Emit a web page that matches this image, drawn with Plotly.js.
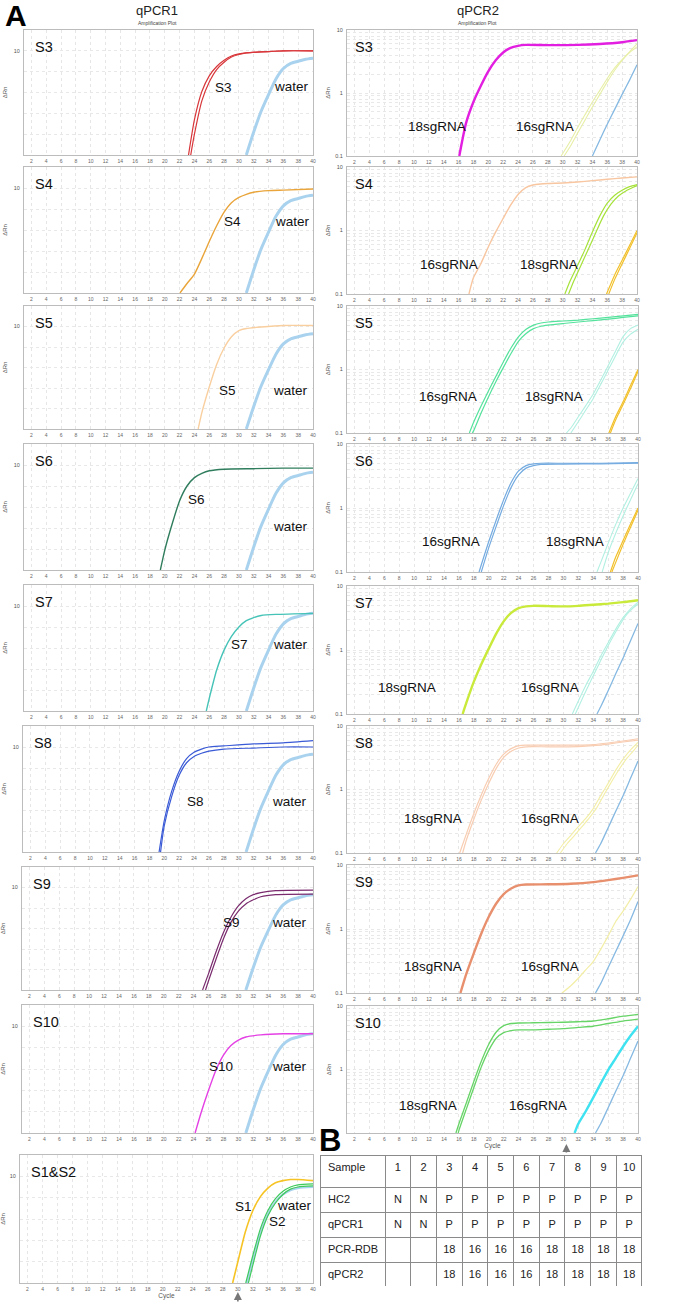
<!DOCTYPE html>
<html><head><meta charset="utf-8">
<script src="https://cdn.plot.ly/plotly-3.0.1.min.js"></script>
<style>html,body{margin:0;padding:0;background:#fff}</style>
</head><body><div id="chart" style="width:685px;height:1306px"></div>
<script>
// ================= DATA =================
const cycleTicks = [2,4,6,8,10,12,14,16,18,20,22,24,26,28,30,32,34,36,38,40];
const linTicks = [2,4,6,8,10];
const linTickText = ['','','','','10'];
const logTicks = [0.1,0.2,0.3,0.4,0.5,0.6,0.7,0.8,0.9,1,2,3,4,5,6,7,8,9,10];
const logTickText = ['0.1','','','','','','','','','1','','','','','','','','','10'];
const logTickTextNoMin = ['','','','','','','','','','1','','','','','','','','','10'];

// qPCR1 (linear dRn) — water control
const cyc_Lw = [31,32,33,34,35,36,37,38,39,40];
const rn_Lw  = [0,2.2,4.2,5.8,7.3,8.3,8.8,9.0,9.2,9.3];
// S3
const cyc_L3a = [23.2,24,25,26,27,28,29,30,31,33,36,40];
const rn_L3a  = [0,3.4,6.1,7.6,8.5,9.1,9.5,9.7,9.8,9.9,10.0,10.0];
const cyc_L3b = [23.5,24,25,26,27,28,29,30,31,33,36,40];
const rn_L3b  = [0,2.0,5.2,7.0,8.2,8.9,9.4,9.65,9.8,9.9,10.0,10.0];
// S4
const cyc_L4 = [22.05,23,24,25,26,27,28,29,30,31,32,34,36,40];
const rn_L4  = [0,0.9,1.8,3.3,4.9,6.4,7.7,8.6,9.1,9.4,9.6,9.75,9.8,9.9];
// S5
const cyc_L5 = [24.5,25,26,27,28,29,30,31,33,36,40];
const rn_L5  = [0,1.6,4.1,6.3,7.9,9.0,9.6,9.8,9.95,10.1,10.1];
// S6
const cyc_L6 = [19.4,20,21,22,23,24,25,26,28,32,36,40];
const rn_L6  = [0,1.9,4.4,6.6,8.0,8.8,9.2,9.45,9.6,9.65,9.7,9.7];
// S7
const cyc_L7 = [25.6,26,27,28,29,30,31,32,33,35,40];
const rn_L7  = [0,1.2,3.9,5.8,7.1,8.0,8.6,8.9,9.1,9.2,9.3];
// S8
const cyc_L8a = [19.3,20,21,22,23,24,25,26,28,32,36,40];
const rn_L8a  = [0,3.0,5.8,7.7,8.9,9.5,9.8,10.0,10.1,10.3,10.4,10.6];
const cyc_L8b = [19.5,20,21,22,23,24,25,26,28,32,36,40];
const rn_L8b  = [0,2.5,5.3,7.3,8.5,9.1,9.4,9.6,9.8,9.9,10.0,10.0];
// S9
const cyc_L9a = [25.2,26,27,28,29,30,31,32,33,35,40];
const rn_L9a  = [0,1.6,3.7,5.6,7.1,8.2,8.9,9.3,9.5,9.7,9.75];
const cyc_L9b = [25.6,26,27,28,29,30,31,32,33,35,40];
const rn_L9b  = [0,0.9,3.0,5.0,6.6,7.7,8.4,8.8,9.1,9.3,9.35];
// S10
const cyc_L10 = [24.2,25,26,27,28,29,30,31,33,36,40];
const rn_L10  = [0,1.9,4.0,5.9,7.3,8.2,8.7,9.0,9.2,9.3,9.3];
// S1 & S2
const cyc_L1 = [29.3,30,31,32,33,34,35,36,37,38,40];
const rn_L1  = [0,2.0,4.8,6.8,8.1,8.9,9.4,9.6,9.7,9.7,9.6];
const cyc_L2a = [31.05,32,33,34,35,36,37,38,40];
const rn_L2a  = [0,2.6,5.1,6.8,7.9,8.6,9.0,9.2,9.3];
const cyc_L2b = [31.4,32,33,34,35,36,37,38,40];
const rn_L2b  = [0,1.7,4.4,6.3,7.5,8.3,8.8,9.0,9.1];
const cyc_L12w = [31.2,32,33,34,35,36,37,38,40];
const rn_L12w  = [0,2.2,4.7,6.5,7.6,8.3,8.7,8.9,9.0];

// qPCR2 (log dRn)
// S3
const cyc_R3_18 = [16.1,17,18,19,20,21,22,23,24,25,28,32,35,38,40];
const rn_R3_18  = [0.1,0.33,0.72,1.3,2.2,3.3,4.4,5.2,5.6,5.8,5.75,5.8,6.0,6.4,6.9];
const cyc_R3_16a = [29.8,31,32,33,34,35,36,37,38,39,40];
const rn_R3_16a  = [0.1,0.17,0.28,0.45,0.72,1.1,1.7,2.5,3.4,4.4,5.4];
const cyc_R3_16b = [30.2,31,32,33,34,35,36,37,38,39,40];
const rn_R3_16b  = [0.1,0.14,0.23,0.37,0.6,0.95,1.5,2.3,3.3,4.5,6.0];
const cyc_R3_w = [34,35,36,37,38,39,40];
const rn_R3_w  = [0.1,0.18,0.32,0.55,0.95,1.6,2.8];
// S4
const cyc_R4_16 = [17.4,18,19,20,21,22,23,24,25,26,27,28,30,32,34,36,38,40];
const rn_R4_16  = [0.1,0.18,0.3,0.55,0.95,1.55,2.5,3.7,4.7,5.2,5.4,5.5,5.6,5.8,6.1,6.4,6.7,7.0];
const cyc_R4_18a = [30.3,31,32,33,34,35,36,37,38,39,40];
const rn_R4_18a  = [0.1,0.16,0.28,0.5,0.95,1.7,2.7,3.6,4.3,4.9,5.3];
const cyc_R4_18b = [30.8,31.5,32.5,33.5,34.5,35.5,36.5,37.5,38.5,39.5,40];
const rn_R4_18b  = [0.1,0.16,0.29,0.52,0.95,1.7,2.6,3.5,4.2,4.8,5.1];
const cyc_R4_wa = [35.9,37,38,39,40];
const rn_R4_wa  = [0.1,0.2,0.34,0.58,1.0];
const cyc_R4_wb = [36.2,37,38,39,40];
const rn_R4_wb  = [0.1,0.17,0.3,0.52,0.92];
// S5
const cyc_R5_16a = [17.4,18,19,20,21,22,23,24,25,26,27,28,30,32,34,36,38,40];
const rn_R5_16a  = [0.1,0.15,0.27,0.47,0.8,1.35,2.2,3.3,4.3,5.0,5.4,5.6,5.8,6.0,6.3,6.6,7.0,7.4];
const cyc_R5_16b = [17.8,18,19,20,21,22,23,24,25,26,27,28,30,32,34,36,38,40];
const rn_R5_16b  = [0.1,0.11,0.21,0.38,0.66,1.1,1.8,2.8,3.7,4.4,4.8,5.0,5.3,5.6,5.9,6.2,6.6,7.0];
const cyc_R5_18a = [30.4,31,32,33,34,35,36,37,38,39,40];
const rn_R5_18a  = [0.1,0.12,0.18,0.27,0.41,0.68,1.15,1.95,3.3,4.4,5.0];
const cyc_R5_18b = [31,32,33,34,35,36,37,38,39,40];
const rn_R5_18b  = [0.1,0.15,0.23,0.35,0.58,0.98,1.65,2.7,3.6,4.3];
const cyc_R5_wa = [36.1,37,38,39,40];
const rn_R5_wa  = [0.1,0.18,0.31,0.56,1.0];
const cyc_R5_wb = [36.3,37,38,39,40];
const rn_R5_wb  = [0.1,0.16,0.28,0.5,0.93];
// S6
const cyc_R6_16a = [18.7,19,20,21,22,23,24,25,26,27,30,35,40];
const rn_R6_16a  = [0.1,0.13,0.3,0.65,1.35,2.5,3.8,4.6,4.9,5.0,5.0,5.0,5.1];
const cyc_R6_16b = [19.0,20,21,22,23,24,25,26,27,30,35,40];
const rn_R6_16b  = [0.1,0.24,0.52,1.1,2.1,3.3,4.2,4.6,4.8,4.85,4.9,5.0];
const cyc_R6_18a = [34.5,35,36,37,38,39,40];
const rn_R6_18a  = [0.1,0.14,0.28,0.55,1.0,1.7,2.9];
const cyc_R6_18b = [35.2,36,37,38,39,40];
const rn_R6_18b  = [0.1,0.2,0.4,0.75,1.35,2.4];
const cyc_R6_wa = [36.3,37,38,39,40];
const rn_R6_wa  = [0.1,0.17,0.31,0.56,1.0];
const cyc_R6_wb = [36.5,37,38,39,40];
const rn_R6_wb  = [0.1,0.14,0.27,0.5,0.92];
// S7
const cyc_R7_18 = [16.5,17,18,19,20,21,22,23,24,25,26,28,30,32,34,36,38,40];
const rn_R7_18  = [0.1,0.15,0.32,0.6,1.05,1.8,2.8,3.8,4.5,4.8,4.9,4.85,4.8,4.9,5.1,5.3,5.6,6.0];
const cyc_R7_16a = [31.2,32,33,34,35,36,37,38,39,40];
const rn_R7_16a  = [0.1,0.16,0.28,0.46,0.8,1.3,2.1,3.2,4.4,5.6];
const cyc_R7_16b = [31.6,32.5,33.5,34.5,35.5,36.5,37.5,38.5,39.5,40];
const rn_R7_16b  = [0.1,0.17,0.3,0.52,0.9,1.5,2.4,3.6,4.7,5.3];
const cyc_R7_w = [34.5,35,36,37,38,39,40];
const rn_R7_w  = [0.1,0.13,0.23,0.42,0.75,1.4,2.6];
// S8
const cyc_R8_18a = [16.1,17,18,19,20,21,22,23,24,25,28,32,34,36,38,40];
const rn_R8_18a  = [0.1,0.2,0.42,0.82,1.5,2.5,3.6,4.4,4.9,5.0,5.0,5.0,5.1,5.4,5.8,6.3];
const cyc_R8_18b = [16.5,17,18,19,20,21,22,23,24,25,28,32,34,36,38,40];
const rn_R8_18b  = [0.1,0.16,0.34,0.68,1.25,2.15,3.2,4.0,4.5,4.7,4.7,4.75,4.9,5.2,5.6,6.0];
const cyc_R8_16a = [29.1,30,31,32,33,34,35,36,37,38,39,40];
const rn_R8_16a  = [0.1,0.14,0.19,0.26,0.35,0.5,0.8,1.25,2.0,3.0,4.2,5.5];
const cyc_R8_16b = [29.6,30.5,31.5,32.5,33.5,34.5,35.5,36.5,37.5,38.5,39.5,40];
const rn_R8_16b  = [0.1,0.14,0.19,0.26,0.36,0.52,0.85,1.35,2.1,3.1,4.2,5.0];
const cyc_R8_w = [34.3,35,36,37,38,39,40];
const rn_R8_w  = [0.1,0.14,0.25,0.45,0.8,1.5,2.8];
// S9
const cyc_R9_18 = [16.2,17,18,19,20,21,22,23,24,25,28,31,34,36,38,40];
const rn_R9_18  = [0.1,0.2,0.42,0.85,1.55,2.5,3.5,4.3,4.8,4.95,5.0,5.1,5.4,5.8,6.3,6.9];
const cyc_R9_16 = [29.8,31,32,33,34,35,36,37,38,39,40];
const rn_R9_16  = [0.1,0.13,0.17,0.23,0.31,0.48,0.78,1.3,1.9,2.9,4.6];
const cyc_R9_w = [34.3,35,36,37,38,39,40];
const rn_R9_w  = [0.1,0.14,0.25,0.44,0.78,1.4,2.7];
// S10
const cyc_R10_18a = [15.6,16,17,18,19,20,21,22,23,24,26,28,30,32,34,36,38,40];
const rn_R10_18a  = [0.1,0.14,0.3,0.65,1.35,2.5,3.9,4.9,5.3,5.4,5.45,5.5,5.55,5.65,5.8,6.3,6.9,7.4];
const cyc_R10_18b = [15.9,16,17,18,19,20,21,22,23,24,26,28,30,32,34,36,38,40];
const rn_R10_18b  = [0.1,0.11,0.24,0.52,1.1,2.0,3.1,3.8,4.1,4.2,4.2,4.3,4.4,4.6,4.8,5.3,5.8,6.2];
const cyc_R10_16 = [31.5,32,33,34,35,36,37,38,39,40];
const rn_R10_16  = [0.1,0.14,0.22,0.36,0.6,0.98,1.5,2.3,3.4,4.8];
const cyc_R10_w = [34.3,35,36,37,38,39,40];
const rn_R10_w  = [0.1,0.14,0.25,0.45,0.8,1.5,2.8];

// Table B
const tblSample = ['Sample','1','2','3','4','5','6','7','8','9','10'];
const tblHC2    = ['HC2','N','N','P','P','P','P','P','P','P','P'];
const tblQPCR1  = ['qPCR1','N','N','P','P','P','P','P','P','P','P'];
const tblRDB    = ['PCR-RDB','','','18','16','16','16','18','18','18','18'];
const tblQPCR2  = ['qPCR2','','','18','16','16','16','18','18','18','18'];

// ================= LAYOUT CONFIG =================
const W = 685, H = 1306;
const FONT = 'Liberation Sans, Arial, sans-serif';
const panels = [
  {name:'S3', log:false, l:24, r:313, t:30,  b:155},
  {name:'S4', log:false, l:24, r:313, t:167, b:293},
  {name:'S5', log:false, l:24, r:313, t:306, b:429},
  {name:'S6', log:false, l:24, r:313, t:444, b:570},
  {name:'S7', log:false, l:24, r:313, t:585, b:711},
  {name:'S8', log:false, l:23, r:313, t:726, b:852},
  {name:'S9', log:false, l:22, r:313, t:867, b:990},
  {name:'S10', log:false, l:22, r:313, t:1005, b:1133},
  {name:'S1&S2', log:false, l:20, r:313, t:1155, b:1283, cycle:true},
  {name:'S3', log:true, l:347, r:637, t:30,  b:156},
  {name:'S4', log:true, l:347, r:637, t:167, b:294},
  {name:'S5', log:true, l:347, r:638, t:306, b:433},
  {name:'S6', log:true, l:347, r:638, t:444, b:572},
  {name:'S7', log:true, l:347, r:638, t:586, b:714},
  {name:'S8', log:true, l:347, r:638, t:726, b:853},
  {name:'S9', log:true, l:347, r:638, t:865, b:993},
  {name:'S10', log:true, l:347, r:638, t:1006, b:1133, cycle:true, hideMin:true}
];

const C = {
  lwater:'#A9D2EE', red:'#D8363A', orange:'#E9A43A', peach:'#F9CF9F', dgreen:'#2F7D5D',
  teal:'#45C3B7', blue:'#3A5AD6', purple:'#7A2B6E', magenta:'#E440E4', yellow:'#F6C324', green:'#3FCB5C',
  rmag:'#E21EE0', pale16:'#E8EFA6', rwater:'#86B9E2', rpeach:'#F8C6A0', lime:'#A6E23A', gold:'#F2C02B',
  mint:'#54E29C', pcyan:'#B2F0E2', rblue:'#74ABE0', ylime:'#C9EA3A', lpeach:'#F8CDB2', pyellow:'#F3EEA6',
  coral:'#E8906E', rgreen:'#66D466', cyan:'#3FE2F0'
};

const curves = [
  // panel index (1-based), x, y, color, width
  [1, cyc_Lw, rn_Lw, C.lwater, 3], [1, cyc_L3a, rn_L3a, C.red, 1.2], [1, cyc_L3b, rn_L3b, C.red, 1.2],
  [2, cyc_Lw, rn_Lw, C.lwater, 3], [2, cyc_L4, rn_L4, C.orange, 1.4],
  [3, cyc_Lw, rn_Lw, C.lwater, 3], [3, cyc_L5, rn_L5, C.peach, 1.4],
  [4, cyc_Lw, rn_Lw, C.lwater, 3], [4, cyc_L6, rn_L6, C.dgreen, 1.4],
  [5, cyc_Lw, rn_Lw, C.lwater, 3], [5, cyc_L7, rn_L7, C.teal, 1.4],
  [6, cyc_Lw, rn_Lw, C.lwater, 3], [6, cyc_L8a, rn_L8a, C.blue, 1.2], [6, cyc_L8b, rn_L8b, C.blue, 1.2],
  [7, cyc_Lw, rn_Lw, C.lwater, 3], [7, cyc_L9a, rn_L9a, C.purple, 1.2], [7, cyc_L9b, rn_L9b, C.purple, 1.2],
  [8, cyc_Lw, rn_Lw, C.lwater, 3], [8, cyc_L10, rn_L10, C.magenta, 1.4],
  [9, cyc_L12w, rn_L12w, C.lwater, 2.2], [9, cyc_L2a, rn_L2a, C.green, 1.2], [9, cyc_L2b, rn_L2b, C.green, 1.2], [9, cyc_L1, rn_L1, C.yellow, 1.6],
  [10, cyc_R3_16a, rn_R3_16a, C.pale16, 1.1], [10, cyc_R3_16b, rn_R3_16b, C.pale16, 1.1], [10, cyc_R3_w, rn_R3_w, C.rwater, 1.3], [10, cyc_R3_18, rn_R3_18, C.rmag, 2.4],
  [11, cyc_R4_16, rn_R4_16, C.rpeach, 1.4], [11, cyc_R4_18a, rn_R4_18a, C.lime, 1.2], [11, cyc_R4_18b, rn_R4_18b, C.lime, 1.2], [11, cyc_R4_wa, rn_R4_wa, C.gold, 1.2], [11, cyc_R4_wb, rn_R4_wb, C.gold, 1.2],
  [12, cyc_R5_16a, rn_R5_16a, C.mint, 1.2], [12, cyc_R5_16b, rn_R5_16b, C.mint, 1.2], [12, cyc_R5_18a, rn_R5_18a, C.pcyan, 1.1], [12, cyc_R5_18b, rn_R5_18b, C.pcyan, 1.1], [12, cyc_R5_wa, rn_R5_wa, C.gold, 1.2], [12, cyc_R5_wb, rn_R5_wb, C.gold, 1.2],
  [13, cyc_R6_16a, rn_R6_16a, C.rblue, 1.2], [13, cyc_R6_16b, rn_R6_16b, C.rblue, 1.2], [13, cyc_R6_18a, rn_R6_18a, C.pcyan, 1.1], [13, cyc_R6_18b, rn_R6_18b, C.pcyan, 1.1], [13, cyc_R6_wa, rn_R6_wa, C.gold, 1.2], [13, cyc_R6_wb, rn_R6_wb, C.gold, 1.2],
  [14, cyc_R7_16a, rn_R7_16a, C.pcyan, 1.1], [14, cyc_R7_16b, rn_R7_16b, C.pcyan, 1.1], [14, cyc_R7_w, rn_R7_w, C.rwater, 1.3], [14, cyc_R7_18, rn_R7_18, C.ylime, 2.4],
  [15, cyc_R8_16a, rn_R8_16a, C.pyellow, 1.1], [15, cyc_R8_16b, rn_R8_16b, C.pyellow, 1.1], [15, cyc_R8_w, rn_R8_w, C.rwater, 1.3], [15, cyc_R8_18a, rn_R8_18a, C.lpeach, 1.2], [15, cyc_R8_18b, rn_R8_18b, C.lpeach, 1.2],
  [16, cyc_R9_16, rn_R9_16, C.pyellow, 1.2], [16, cyc_R9_w, rn_R9_w, C.rwater, 1.3], [16, cyc_R9_18, rn_R9_18, C.coral, 2.4],
  [17, cyc_R10_w, rn_R10_w, C.rwater, 1.3], [17, cyc_R10_16, rn_R10_16, C.cyan, 2.4], [17, cyc_R10_18a, rn_R10_18a, C.rgreen, 1.3], [17, cyc_R10_18b, rn_R10_18b, C.rgreen, 1.3]
];

// curve labels: panel, text, x (cycle), y (linear dRn for qPCR1, log10 dRn for qPCR2)
const curveLabels = [
  [1,'S3',27.9,6.5],[1,'water',37.1,6.6],
  [2,'S4',29.2,6.8],[2,'water',37.2,6.8],
  [3,'S5',28.4,3.8],[3,'water',36.9,3.8],
  [4,'S6',24.3,6.7],[4,'water',36.9,4.1],
  [5,'S7',30.1,6.3],[5,'water',36.9,6.3],
  [6,'S8',24.2,4.8],[6,'water',36.9,4.8],
  [7,'S9',29.1,6.6],[7,'water',36.9,6.6],
  [8,'S10',27.7,6.2],[8,'water',36.9,6.2],
  [9,'S1',30.7,7.15],[9,'water',37.55,7.3],[9,'S2',35.3,5.75],
  [10,'18sgRNA',13.1,-0.535],[10,'16sgRNA',27.65,-0.535],[10,'water',42.7,0.39],
  [11,'16sgRNA',14.7,-0.53],[11,'18sgRNA',28.2,-0.53],[11,'water',42.4,0.0],
  [12,'16sgRNA',14.5,-0.43],[12,'18sgRNA',28.7,-0.43],[12,'water',42.4,-0.04],
  [13,'16sgRNA',15.0,-0.52],[13,'18sgRNA',31.5,-0.52],[13,'water',42.6,-0.03],
  [14,'18sgRNA',9.0,-0.59],[14,'16sgRNA',28.2,-0.59],[14,'water',42.6,-0.03],
  [15,'18sgRNA',12.5,-0.45],[15,'16sgRNA',28.2,-0.45],[15,'water',42.6,0.46],
  [16,'18sgRNA',12.5,-0.59],[16,'16sgRNA',28.2,-0.59],[16,'water',42.6,0.42],
  [17,'18sgRNA',11.9,-0.57],[17,'16sgRNA',26.6,-0.57],[17,'water',42.6,0.39]
];

// ================= BUILD =================
const traces = [];
curves.forEach(c => {
  const i = c[0];
  traces.push({type:'scatter', mode:'lines', x:c[1], y:c[2],
    xaxis: i===1?'x':'x'+i, yaxis: i===1?'y':'y'+i,
    line:{color:c[3], width:c[4], shape:'spline', smoothing:0.6}, hoverinfo:'skip', cliponaxis:true});
});

const layout = {
  width:W, height:H, margin:{l:0,r:0,t:0,b:0}, showlegend:false,
  paper_bgcolor:'#fff', plot_bgcolor:'#fff', font:{family:FONT, color:'#222'},
  annotations:[], shapes:[]
};

panels.forEach((p,k) => {
  const i = k+1;
  const xs = i===1?'':String(i);
  const xa = {
    domain:[p.l/W, p.r/W], range:[1,40], anchor:'y'+xs,
    tickmode:'array', tickvals:cycleTicks, ticks:'', ticklabelstandoff:1,
    tickfont:{size:5, color:'#666', family:FONT},
    showline:true, linecolor:'#bcbcbc', linewidth:1, mirror:true,
    showgrid:true, gridcolor:'#e6e6e6', griddash:'dot', gridwidth:1, zeroline:false, fixedrange:true
  };
  if (p.cycle) xa.title = {text:'Cycle', font:{size:6.5, color:'#555', family:FONT}, standoff:2};
  const ya = {
    domain:[1-p.b/H, 1-p.t/H], anchor:'x'+xs,
    tickmode:'array', ticks:'', ticklabelstandoff:2,
    tickfont:{size:5.5, color:'#555', family:FONT},
    showline:true, linecolor:'#bcbcbc', linewidth:1, mirror:true,
    showgrid:true, gridcolor:'#e8e8e8', griddash:'dot', gridwidth:1, zeroline:false, fixedrange:true,
    title:{text:'ΔRn', font:{size:6, color:'#555', family:FONT}, standoff:p.log?4:5}
  };
  if (p.log) {
    ya.type='log'; ya.range=[-1,1]; ya.tickvals=logTicks; ya.ticktext=p.hideMin?logTickTextNoMin:logTickText;
  } else {
    ya.range=[0,12]; ya.tickvals=linTicks; ya.ticktext=linTickText;
  }
  layout['xaxis'+xs] = xa;
  layout['yaxis'+xs] = ya;
  layout.annotations.push({xref:'x'+xs+' domain', yref:'y'+xs+' domain', x:p.log?0.022:0.03, y:0.865,
    xanchor:'left', yanchor:'middle', text:p.name, showarrow:false, font:{size:14.5, color:'#111', family:FONT}});
});

curveLabels.forEach(a => {
  const xs = a[0]===1?'':String(a[0]);
  layout.annotations.push({xref:'x'+xs, yref:'y'+xs, x:a[2], y:a[3], text:a[1], showarrow:false,
    xanchor:'center', yanchor:'middle', font:{size:13.5, color:'#111', family:FONT}});
});

layout.annotations.push(
  {xref:'paper', yref:'paper', x:16/W, y:1-15/H, text:'<b>A</b>', showarrow:false, xanchor:'center', yanchor:'middle', font:{size:30, color:'#000', family:FONT}},
  {xref:'paper', yref:'paper', x:330/W, y:1-1140/H, text:'<b>B</b>', showarrow:false, xanchor:'center', yanchor:'middle', font:{size:31, color:'#000', family:FONT}},
  {xref:'paper', yref:'paper', x:157/W, y:1-10/H, text:'qPCR1', showarrow:false, xanchor:'center', yanchor:'middle', font:{size:13, color:'#222', family:FONT}},
  {xref:'paper', yref:'paper', x:157/W, y:1-23/H, text:'Amplification Plot', showarrow:false, xanchor:'center', yanchor:'middle', font:{size:5, color:'#444', family:FONT}},
  {xref:'paper', yref:'paper', x:478/W, y:1-11/H, text:'qPCR2', showarrow:false, xanchor:'center', yanchor:'middle', font:{size:13, color:'#222', family:FONT}},
  {xref:'paper', yref:'paper', x:478/W, y:1-23/H, text:'Amplification Plot', showarrow:false, xanchor:'center', yanchor:'middle', font:{size:5, color:'#444', family:FONT}},
  {xref:'x9', yref:'paper', x:30, y:1-1292/H, ax:0, ay:11, text:'', showarrow:true, arrowhead:2, arrowsize:1, arrowwidth:1.6, arrowcolor:'#777'},
  {xref:'x17', yref:'paper', x:30.4, y:1-1144/H, ax:0, ay:10, text:'', showarrow:true, arrowhead:2, arrowsize:1, arrowwidth:1.6, arrowcolor:'#777'}
);

// Table
const rows = [tblHC2, tblQPCR1, tblRDB, tblQPCR2];
const cols = tblSample.map((_,j) => rows.map(r => r[j]));
traces.push({
  type:'table',
  domain:{x:[320/W, 642/W], y:[1-1287/H, 1-1155/H]},
  columnwidth:[65,25.7,25.7,25.7,25.7,25.7,25.7,25.7,25.7,25.7,25.7],
  header:{values:tblSample, height:32, align:['left','center'], fill:{color:'#fff'},
    line:{color:'#8a8a8a', width:1}, font:{family:FONT, size:11, color:'#222'}},
  cells:{values:cols, height:25, align:['left','center'], fill:{color:'#fff'},
    line:{color:'#8a8a8a', width:1}, font:{family:FONT, size:11, color:'#222'}}
});

Plotly.newPlot('chart', traces, layout, {staticPlot:true, displayModeBar:false});
</script></body></html>
